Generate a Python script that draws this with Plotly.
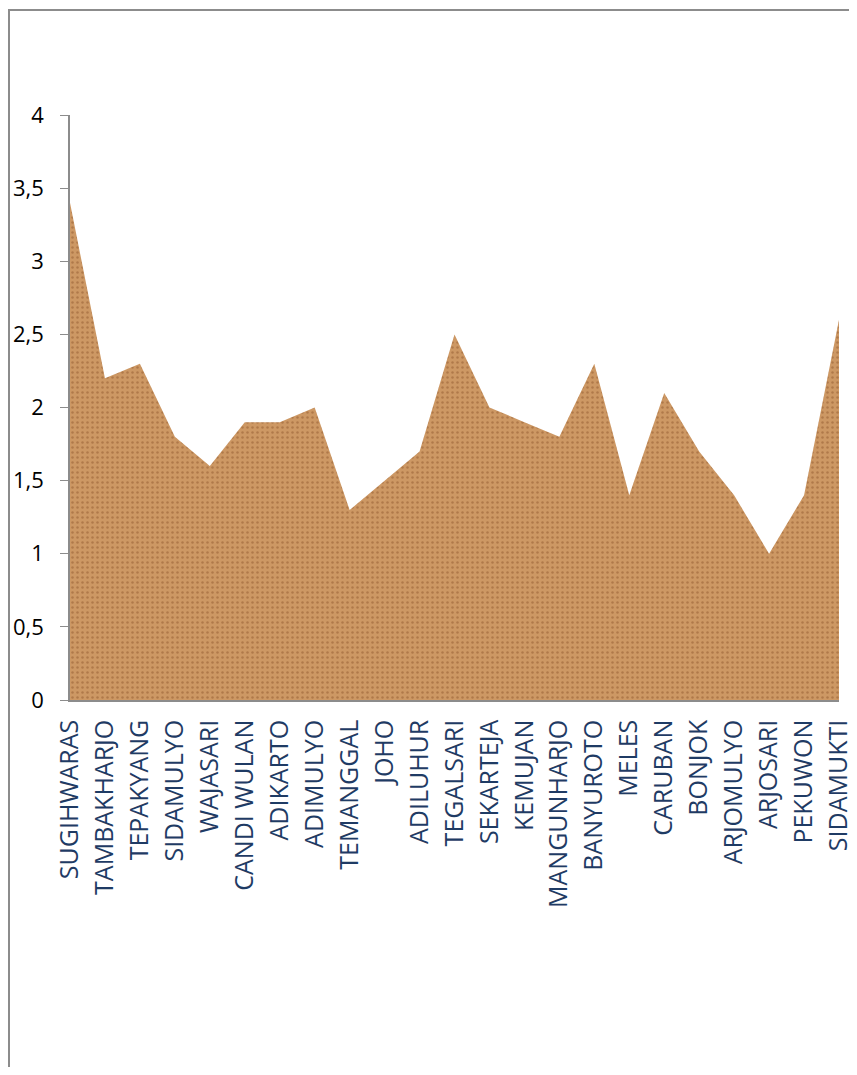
import plotly.graph_objects as go

categories = ["SUGIHWARAS", "TAMBAKHARJO", "TEPAKYANG", "SIDAMULYO", "WAJASARI",
              "CANDI WULAN", "ADIKARTO", "ADIMULYO", "TEMANGGAL", "JOHO", "ADILUHUR",
              "TEGALSARI", "SEKARTEJA", "KEMUJAN", "MANGUNHARJO", "BANYUROTO", "MELES",
              "CARUBAN", "BONJOK", "ARJOMULYO", "ARJOSARI", "PEKUWON", "SIDAMUKTI"]
values = [3.4, 2.2, 2.3, 1.8, 1.6, 1.9, 1.9, 2.0, 1.3, 1.5, 1.7, 2.5, 2.0, 1.9, 1.8,
          2.3, 1.4, 2.1, 1.7, 1.4, 1.0, 1.4, 2.6]
y_ticks = [0, 0.5, 1, 1.5, 2, 2.5, 3, 3.5, 4]

# page body has an 8px margin; figure sized/margined to compensate
W, H = 841, 1059
L, R, T, B = 62, 10, 107, 367
pw, ph = W - L - R, H - T - B

fig = go.Figure()
fig.add_trace(go.Scatter(
    x=categories, y=values, mode="lines", line=dict(width=0, color="rgb(190,135,85)"),
    fill="tozeroy", fillcolor="rgb(198,144,94)",
    fillpattern=dict(shape=".", fgcolor="rgb(145,90,48)", bgcolor="rgb(205,152,100)",
                     size=5, solidity=0.2),
    hoverinfo="x+y", showlegend=False))

fig.update_layout(
    width=W, height=H,
    margin=dict(l=L, r=R, t=T, b=B),
    paper_bgcolor="white", plot_bgcolor="white",
    separators=", ",
    font=dict(family="Open Sans, Liberation Sans, sans-serif"),
    xaxis=dict(type="category", range=[0, len(categories) - 1], showgrid=False,
               showline=True, linecolor="#8c8c8c", linewidth=1.5, ticks="",
               tickangle=-90, tickfont=dict(size=25, color="#1f3b64"), zeroline=False,
               ticklabelstandoff=8, automargin=False),
    yaxis=dict(range=[0, 4], tickvals=y_ticks, showgrid=False, showline=True,
               linecolor="#8c8c8c", linewidth=1.5, ticks="outside", ticklen=8,
               tickcolor="#8c8c8c", tickfont=dict(size=22, color="black"),
               zeroline=False, ticklabelstandoff=12, automargin=False),
)

# outer chart frame (extends past the right and bottom edges, as in the original)
x0 = (1 - L) / pw
x1 = (W + 20 - L) / pw
y_top = 1 + (T - 2) / ph
y_bot = 1 - (H + 20 - T) / ph
fig.add_shape(type="rect", xref="paper", yref="paper", x0=x0, x1=x1, y0=y_bot, y1=y_top,
              line=dict(color="#8c8c8c", width=2), fillcolor="rgba(0,0,0,0)", layer="below")

fig.write_html("out.html")
